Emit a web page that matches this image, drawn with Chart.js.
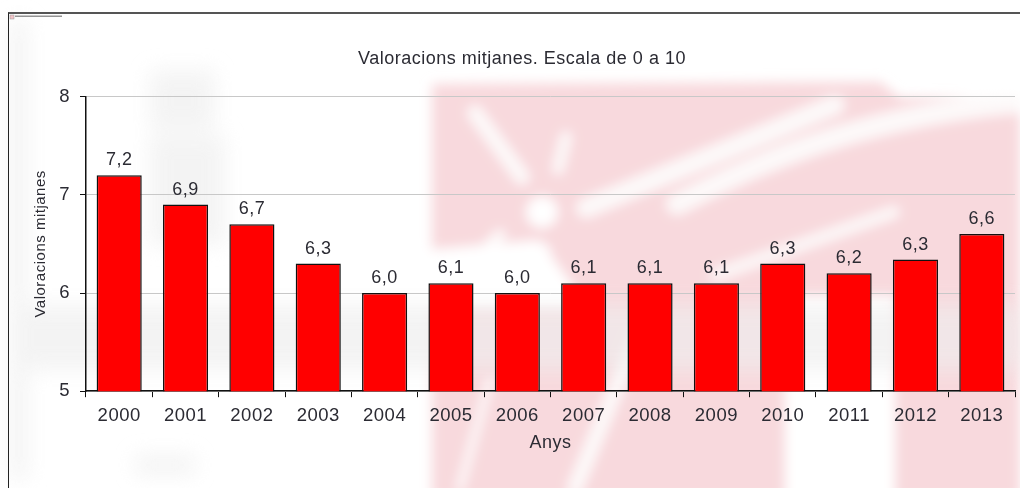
<!DOCTYPE html>
<html>
<head>
<meta charset="utf-8">
<title>Valoracions mitjanes</title>
<script src="https://cdn.jsdelivr.net/npm/chart.js@4/dist/chart.umd.min.js"></script>
<style>
  html, body { margin: 0; padding: 0; background: #fff; }
  #page { position: relative; width: 1020px; height: 488px; overflow: hidden; background: #fff; }
  #watermark { position: absolute; left: 0; top: 0; }
  #frame { position: absolute; left: 8px; top: 12px; width: 1012px; height: 476px;
           box-sizing: border-box; border-left: 1.5px solid #222; border-top: 2px solid #555; }
  #chart { position: absolute; left: 0; top: 0; }
</style>
</head>
<body>
<div id="page">
  <!-- faded logo behind the chart -->
  <svg id="watermark" width="1020" height="488">
    <defs>
      <filter id="soft" x="-10%" y="-10%" width="120%" height="120%"><feGaussianBlur stdDeviation="6"/></filter>
      <filter id="softer" x="-20%" y="-20%" width="140%" height="140%"><feGaussianBlur stdDeviation="10"/></filter>
    </defs>
    <g filter="url(#soft)">
      <path d="M432 84 L880 82 L900 98 L1020 96 L1020 500 L432 500 Z" fill="#f8d9dd"/>
      <g fill="none" stroke="#fff" stroke-linecap="round" opacity="0.85">
        <path d="M475 113 L522 177" stroke-width="16"/>
        <path d="M566 137 L558 169" stroke-width="12"/>
        <path d="M500 235 L470 265" stroke-width="12"/>
        <path d="M586 208 L835 105" stroke-width="20"/>
        <path d="M677 204 C780 150 880 115 1020 102" stroke-width="22"/>
        <path d="M716 275 L894 212" stroke-width="12"/>
        <path d="M545 250 L540 300" stroke-width="12"/>
        <path d="M640 330 L575 488" stroke-width="16"/>
        <path d="M490 380 L460 488" stroke-width="8"/>
      </g>
      <circle cx="542" cy="212" r="16" fill="#fff"/>
      <path d="M785 296 L895 296 L895 500 L785 500 Z" fill="#fff"/>
      <path d="M425 250 L425 310 L590 310 L540 240 Z" fill="#fff"/>
    </g>
    <g filter="url(#softer)" fill="#eeeeee" opacity="0.65">
      <path d="M10 305 H1020 V370 H10 Z"/>
      <path d="M150 70 h65 v60 h-65 Z M150 135 h75 v110 h-75 Z M135 455 h60 v20 h-60 Z"/>
      <path d="M10 20 h18 v460 h-18 Z"/>
    </g>
    <rect x="10" y="15" width="4" height="4" fill="#f2c4c8" stroke="#999" stroke-width="0.5"/>
    <rect x="15" y="15.5" width="47" height="1.5" fill="#666" opacity="0.7"/>
  </svg>
  <div id="frame"></div>
  <canvas id="chart" width="1020" height="488"></canvas>
</div>
<script>
// --- DATA ---
const years = ['2000', '2001', '2002', '2003', '2004', '2005', '2006', '2007', '2008', '2009', '2010', '2011', '2012', '2013'];
const ratings = [7.2, 6.9, 6.7, 6.3, 6.0, 6.1, 6.0, 6.1, 6.1, 6.1, 6.3, 6.2, 6.34, 6.6];
const yTicks = [5, 6, 7, 8];

const FONT = '"Liberation Sans", Arial, sans-serif';
const TEXT = '#2b2b33';

// the reference text is a bit stretched sideways, letter spacing gets close to it
const wideText = {
  id: 'wideText',
  beforeDraw(chart) { chart.ctx.letterSpacing = '0.5px'; }
};

// value labels above the bars, with a decimal comma
const barLabels = {
  id: 'barLabels',
  afterDatasetsDraw(chart) {
    const { ctx } = chart;
    ctx.save();
    ctx.font = '18px ' + FONT;
    ctx.fillStyle = TEXT;
    ctx.textAlign = 'center';
    ctx.textBaseline = 'bottom';
    chart.getDatasetMeta(0).data.forEach((bar, i) => {
      ctx.fillText(ratings[i].toFixed(1).replace('.', ','), bar.x, bar.y - 6);
    });
    ctx.restore();
  }
};

new Chart(document.getElementById('chart').getContext('2d'), {
  type: 'bar',
  data: {
    labels: years,
    datasets: [{
      data: ratings,
      backgroundColor: '#ff0000',
      borderColor: '#111',
      borderWidth: 1.5,
      categoryPercentage: 1,
      barPercentage: 0.68
    }]
  },
  options: {
    responsive: false,
    animation: false,
    // the left padding also moves the title to where it sits in the reference
    layout: { padding: { left: 29, right: 5, top: 0, bottom: 0 } },
    plugins: {
      legend: { display: false },
      tooltip: { enabled: false },
      title: {
        display: true,
        text: 'Valoracions mitjanes. Escala de 0 a 10',
        color: TEXT,
        font: { family: FONT, size: 18, weight: 'normal' },
        padding: { top: 48, bottom: 27 }
      }
    },
    scales: {
      x: {
        grid: { drawOnChartArea: false, color: '#111', tickLength: 6 },
        border: { color: '#111', width: 1.5 },
        ticks: { color: TEXT, font: { family: FONT, size: 18.5 }, padding: 7.5, maxRotation: 0 },
        title: {
          display: true, text: 'Anys', color: TEXT,
          font: { family: FONT, size: 18, lineHeight: 1 }, padding: { top: 0, bottom: 35.6 }
        }
      },
      y: {
        min: 5,
        max: 8,
        afterBuildTicks(axis) { axis.ticks = yTicks.map(v => ({ value: v })); },
        afterFit(axis) { axis.width = 57; },
        grid: { color: '#c8c8c8', tickColor: '#111', tickLength: 6 },
        border: { color: '#111', width: 1.5 },
        ticks: { color: TEXT, font: { family: FONT, size: 18.5 }, padding: 10 },
        title: {
          display: true, text: 'Valoracions mitjanes', color: TEXT,
          font: { family: FONT, size: 15 }, padding: { top: 3, bottom: 0 }
        }
      }
    }
  },
  plugins: [wideText, barLabels]
});
</script>
</body>
</html>
